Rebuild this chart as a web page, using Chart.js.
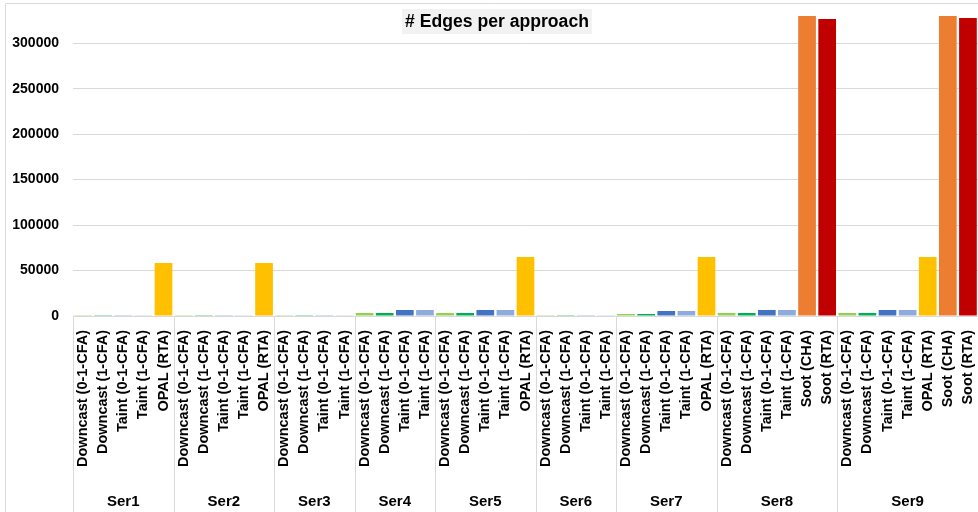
<!DOCTYPE html>
<html>
<head>
<meta charset="utf-8">
<title># Edges per approach</title>
<script src="https://cdn.jsdelivr.net/npm/chart.js@4/dist/chart.umd.min.js"></script>
<style>
  html, body { margin: 0; padding: 0; background: #ffffff; }
  #wrap { position: relative; width: 978px; height: 512px; }
</style>
</head>
<body>
<div id="wrap"><canvas id="chart"></canvas></div>
<script>
// Benchmark groups along the lower axis level
const seriesNames = ['Ser1', 'Ser2', 'Ser3', 'Ser4', 'Ser5', 'Ser6', 'Ser7', 'Ser8', 'Ser9'];

// Approaches evaluated for each benchmark
const baseApproaches = ['Downcast (0-1-CFA)', 'Downcast (1-CFA)', 'Taint (0-1-CFA)', 'Taint (1-CFA)'];
const withOpal = [...baseApproaches, 'OPAL (RTA)'];
const withSoot = [...baseApproaches, 'Soot (CHA)', 'Soot (RTA)'];
const withAll = [...baseApproaches, 'OPAL (RTA)', 'Soot (CHA)', 'Soot (RTA)'];
const approachesPerSeries = [withOpal, withOpal, baseApproaches, baseApproaches, withOpal,
                             baseApproaches, withOpal, withSoot, withAll];

// Number of call-graph edges per approach
const ser1 = [900, 900, 800, 800, 58300];
const ser2 = [900, 900, 800, 800, 58300];
const ser3 = [900, 900, 800, 800];
const ser4 = [3300, 3300, 6600, 6600];
const ser5 = [3300, 3300, 6600, 6600, 64900];
const ser6 = [900, 900, 800, 800];
const ser7 = [2200, 2200, 5500, 5500, 64900];
const ser8 = [3300, 3300, 6600, 6600, 330000, 326700];
const ser9 = [3300, 3300, 6600, 6600, 64900, 330000, 327800];
const edgesPerSeries = [ser1, ser2, ser3, ser4, ser5, ser6, ser7, ser8, ser9];

// Value-axis tick values
const yTicks = [0, 50000, 100000, 150000, 200000, 250000, 300000];

const approachColors = {
  'Downcast (0-1-CFA)': '#92D050',
  'Downcast (1-CFA)': '#00B050',
  'Taint (0-1-CFA)': '#4472C4',
  'Taint (1-CFA)': '#8FAADC',
  'OPAL (RTA)': '#FFC000',
  'Soot (CHA)': '#ED7D31',
  'Soot (RTA)': '#C00000'
};

// Flatten the two-level category axis
const labels = [];
const values = [];
const groupSpans = [];
approachesPerSeries.forEach((list, g) => {
  const start = labels.length;
  list.forEach((name, i) => {
    labels.push(name);
    values.push(edgesPerSeries[g][i]);
  });
  groupSpans.push({ name: seriesNames[g], start: start, end: labels.length - 1 });
});
const colors = labels.map(l => approachColors[l]);

const FONT = '"Liberation Sans", Arial, Helvetica, sans-serif';
const LINE = '#d9d9d9';

// Frame, group separators, group names and the boxed title
const decorations = {
  id: 'decorations',
  afterDraw(chart) {
    const ctx = chart.ctx;
    const x = chart.scales.x;
    const area = chart.chartArea;
    const H = chart.height;
    const step = x.getPixelForValue(1) - x.getPixelForValue(0);
    ctx.save();
    ctx.strokeStyle = LINE;
    ctx.lineWidth = 1;
    // outer frame
    ctx.beginPath();
    ctx.moveTo(5.5, H);
    ctx.lineTo(5.5, 3.5);
    ctx.lineTo(chart.width, 3.5);
    ctx.stroke();
    // separators between benchmark groups
    const edges = [groupSpans[0].start];
    groupSpans.forEach(s => edges.push(s.end + 1));
    edges.forEach(i => {
      const px = Math.round(x.getPixelForValue(0) - step / 2 + i * step) + 0.5;
      ctx.beginPath();
      ctx.moveTo(px, area.bottom);
      ctx.lineTo(px, H);
      ctx.stroke();
    });
    // group names
    ctx.fillStyle = '#000000';
    ctx.font = 'bold 15px ' + FONT;
    ctx.textAlign = 'center';
    ctx.textBaseline = 'middle';
    groupSpans.forEach(s => {
      const cx = (x.getPixelForValue(s.start) + x.getPixelForValue(s.end)) / 2;
      ctx.fillText(s.name, cx, 502);
    });
    // title with shaded box
    const title = '# Edges per approach';
    ctx.font = 'bold 17.6px ' + FONT;
    const tw = ctx.measureText(title).width;
    const tx = 497;
    ctx.fillStyle = '#f2f2f2';
    ctx.fillRect(tx - tw / 2 - 3, 9, tw + 6, 25);
    ctx.fillStyle = '#000000';
    ctx.fillText(title, tx, 22);
    ctx.restore();
  }
};

new Chart(document.getElementById('chart'), {
  type: 'bar',
  data: {
    labels: labels,
    datasets: [{
      label: '# Edges',
      data: values,
      backgroundColor: colors,
      borderWidth: 0,
      categoryPercentage: 1.0,
      barPercentage: 0.88
    }]
  },
  options: {
    responsive: true,
    maintainAspectRatio: false,
    animation: false,
    layout: { padding: { top: 4, left: 0, right: 0, bottom: 0 } },
    plugins: {
      legend: { display: false },
      title: { display: false },
      tooltip: { enabled: false }
    },
    scales: {
      x: {
        type: 'category',
        grid: { display: false, drawTicks: false },
        border: { display: true, color: LINE, width: 1 },
        ticks: {
          autoSkip: false,
          minRotation: 90,
          maxRotation: 90,
          padding: 14,
          color: '#000000',
          font: { family: FONT, size: 14.5, weight: 'bold' }
        },
        afterFit(s) {
          s.height = 196;
          s.paddingLeft = 0;
          s.paddingRight = 0;
        }
      },
      y: {
        min: 0,
        max: 343200,
        grid: { color: LINE, lineWidth: 1, drawTicks: false },
        border: { display: false },
        ticks: {
          stepSize: 50000,
          padding: 14,
          color: '#000000',
          font: { family: FONT, size: 14, weight: 'bold' },
          callback: v => String(v)
        },
        afterBuildTicks(s) {
          s.ticks = yTicks.map(v => ({ value: v }));
        },
        afterFit(s) {
          s.width = 73;
          s.paddingTop = 0;
          s.paddingBottom = 0;
        }
      }
    }
  },
  plugins: [decorations]
});
</script>
</body>
</html>
